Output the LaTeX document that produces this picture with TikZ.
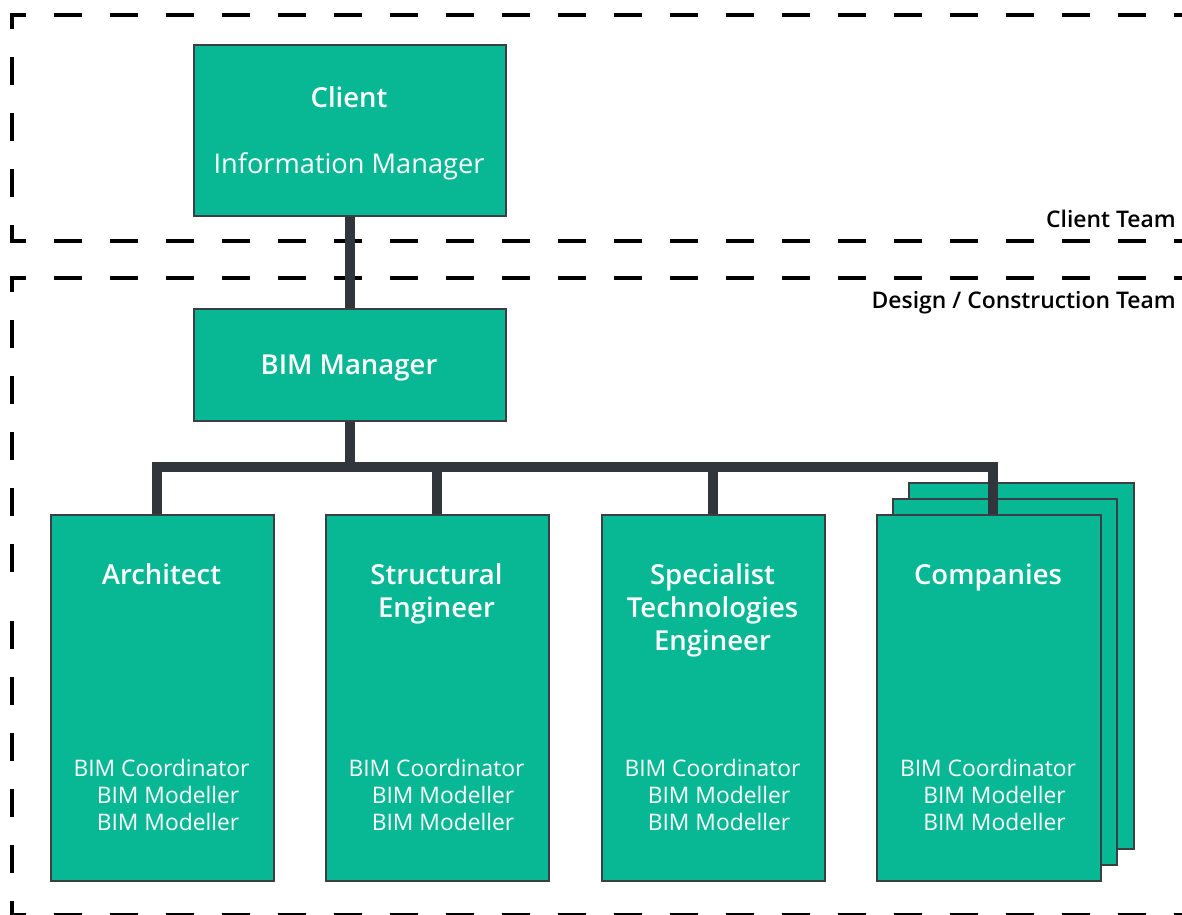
\documentclass[tikz,border=0pt]{standalone}
\usepackage{fontspec}
\setmainfont{Open Sans}
\IfFontExistsTF{Open Sans Semibold}
  {\newfontfamily\semib{Open Sans Semibold}}
  {\IfFontExistsTF{Open Sans SemiBold}
     {\newfontfamily\semib{Open Sans SemiBold}}
     {\newcommand\semib{\bfseries}}}
\definecolor{boxfill}{HTML}{08B794}
\definecolor{boxline}{HTML}{3A3F44}
\definecolor{conn}{HTML}{31363C}
\begin{document}
\begin{tikzpicture}[x=1pt,y=-1pt,
  card/.style={draw=boxline, line width=2pt, fill=boxfill, inner sep=0pt, anchor=north west},
  bottomcard/.style={card, minimum width=224pt, minimum height=366pt},
  link/.style={draw=conn, line width=10pt, line join=miter, line cap=butt},
  teamline/.style={draw=black, line width=4.5pt, dash pattern=on 28pt off 28pt, dash phase=14pt},
  teamcorner/.style={draw=black, line width=4.5pt, line join=miter},
  headtxt/.style={text=white, font=\fontsize{27.5}{30}\selectfont\semib, anchor=base, inner sep=0pt},
  subtxt/.style={text=white, font=\fontsize{27.2}{30}\selectfont, anchor=base, inner sep=0pt},
  roletxt/.style={text=white, font=\fontsize{22.8}{25}\selectfont, anchor=base, inner sep=0pt},
  teamtxt/.style={text=black, font=\fontsize{22.9}{24}\selectfont\semib, anchor=base east, inner sep=0pt}]
\useasboundingbox (0,0) rectangle (1182,914);

% team frames
\draw[teamline] (12,15) -- (1200,15);
\draw[teamline] (12,15) -- (12,241);
\draw[teamline] (12,241) -- (1200,241);
\draw[teamcorner] (12,29) -- (12,15) -- (26,15);
\draw[teamcorner] (12,227) -- (12,241) -- (26,241);

\draw[teamline] (12,278) -- (1200,278);
\draw[teamline] (12,278) -- (12,596);
\draw[teamline] (12,915) -- (12,596);
\draw[teamline] (12,915) -- (1200,915);
\draw[teamcorner] (12,292) -- (12,278) -- (26,278);
\draw[teamcorner] (12,901) -- (12,915) -- (26,915);

\node[teamtxt] (clientteam) at (1176,227) {Client Team};
\node[teamtxt] (designteam) at (1176,308) {Design / Construction Team};

% back cards of the companies stack
\node[bottomcard, minimum width=225pt] (compback2) at (908,482) {};
\node[bottomcard] (compback1) at (892,498) {};

% top boxes
\node[card, minimum width=312pt, minimum height=171pt] (client) at (193,44) {};
\node[card, minimum width=312pt, minimum height=112pt] (bim) at (193,308) {};

% bottom boxes positions (for connector coordinates)
\path (50,514) coordinate (archnw) (325,514) coordinate (structnw) (601,514) coordinate (specnw) (876,514) coordinate (compnw);

% connectors
\draw[link] (client.south) -- (bim.north);
\draw[link] (bim.south) -- ++(0,47);
\draw[link] ([xshift=107pt]archnw) |- ([xshift=117pt,yshift=47pt]compnw) -- ([xshift=117pt]compnw);
\draw[link] ([xshift=112pt]structnw) -- ++(0,-47);
\draw[link] ([xshift=112pt]specnw) -- ++(0,-47);

% bottom boxes
\node[bottomcard, minimum width=223pt] (arch) at (archnw) {};
\node[bottomcard, minimum width=223pt] (struct) at (structnw) {};
\node[bottomcard, minimum width=223pt] (spec) at (specnw) {};
\node[bottomcard] (comp) at (compnw) {};

% texts
\node[headtxt] (clientt) at (349,107) {Client};
\node[subtxt] (infom) at (349,173) {Information Manager};
\node[headtxt] (bimt) at (349,374) {BIM Manager};

\node[headtxt] (archt) at (161.5,584) {Architect};
\node[headtxt] (structt1) at (436.5,584) {Structural};
\node[headtxt] (structt2) at (436.5,617) {Engineer};
\node[headtxt] (spect1) at (712.5,584) {Specialist};
\node[headtxt] (spect2) at (712.5,617) {Technologies};
\node[headtxt] (spect3) at (712.5,650) {Engineer};
\node[headtxt] (compt) at (988,584) {Companies};

\foreach \n/\cx in {a/161.5, s/436.5, p/712.5, c/988}{
  \node[roletxt] (\n r1) at (\cx,776) {BIM Coordinator};
  \node[roletxt] (\n r2) at (\cx+6.5,803) {BIM Modeller};
  \node[roletxt] (\n r3) at (\cx+6.5,830) {BIM Modeller};
}
\end{tikzpicture}
\end{document}
